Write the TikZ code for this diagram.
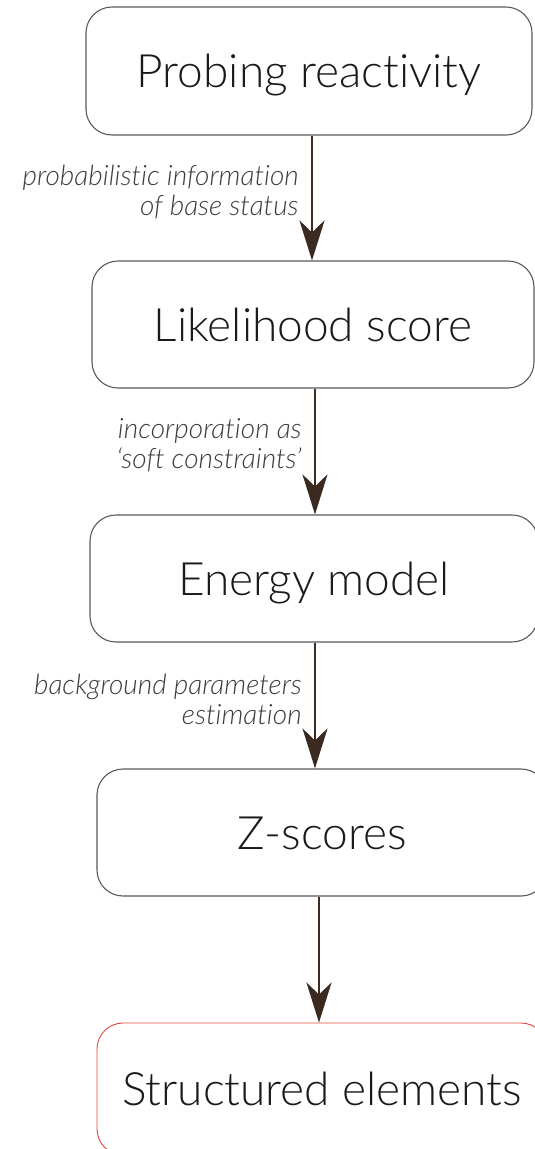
\documentclass[tikz,border=0pt]{standalone}
\usepackage{fontspec}
\setmainfont{Lato}[UprightFont={* Light},ItalicFont={* Light Italic},Ligatures=NoCommon]
\usetikzlibrary{arrows.meta, positioning}
\definecolor{boxgray}{HTML}{5A5A5A}
\definecolor{flowbrown}{HTML}{3B2A20}
\definecolor{endred}{HTML}{E5473F}
\definecolor{textdark}{HTML}{1A1A1A}

\begin{document}
\begin{tikzpicture}[x=1pt,y=-1pt,
  stepbox/.style={draw=boxgray,line width=1.1pt,rounded corners=26pt,inner sep=0pt,
    minimum height=127pt,text=textdark,font=\fontsize{46}{55}\selectfont,
    text height=33pt,text depth=0pt},
  flow/.style={flowbrown,line width=2.7pt,-{Stealth[length=40pt,width=25pt,inset=12pt]}},
  flowlabel/.style={textdark!85,font=\fontsize{28}{30}\selectfont\itshape,
    align=right,anchor=east,inner sep=0pt,xshift=-12pt,pos=0.45}]
  %% pixel grid of the page: 535 x 1149, y grows downwards

  \useasboundingbox (0,0) rectangle (535,1149);
  \fill[white] (0,0) rectangle (535,1149);
  \clip (0,0) rectangle (535,1149);

  % Boxes (right edges of the lower ones run off the page)
  \node[stepbox,minimum width=446pt,minimum height=128pt] (probe) at (309,71) {Probing reactivity};
  \node[stepbox,minimum width=442pt] (like)   at (313,324.5)  {Likelihood score};
  \node[stepbox,minimum width=448pt] (energy) at (314,578.5)  {Energy model};
  \node[stepbox,minimum width=450pt] (zsc)    at (322,832.5)  {Z-scores};
  \node[stepbox,draw=endred,line width=0.9pt,minimum width=450pt,minimum height=132pt]
    (struct) at (322,1089) {Structured elements};

  % Arrows with their side notes
  \draw[flow] ([xshift=3pt]probe.south) -- ([xshift=3pt]probe.south |- like.north)
    node[flowlabel] (note1) {probabilistic information\\of base status};
  \draw[flow] ([xshift=2pt]like.south) -- ([xshift=2pt]like.south |- energy.north)
    node[flowlabel] (note2) {incorporation as\\‘soft constraints’};
  \draw[flow] ([xshift=1pt]energy.south) -- ([xshift=1pt]energy.south |- zsc.north)
    node[flowlabel] (note3) {background parameters\\estimation};
  \draw[flow] ([xshift=-3pt]zsc.south) -- ([xshift=-3pt]zsc.south |- struct.north);
\end{tikzpicture}
\end{document}
